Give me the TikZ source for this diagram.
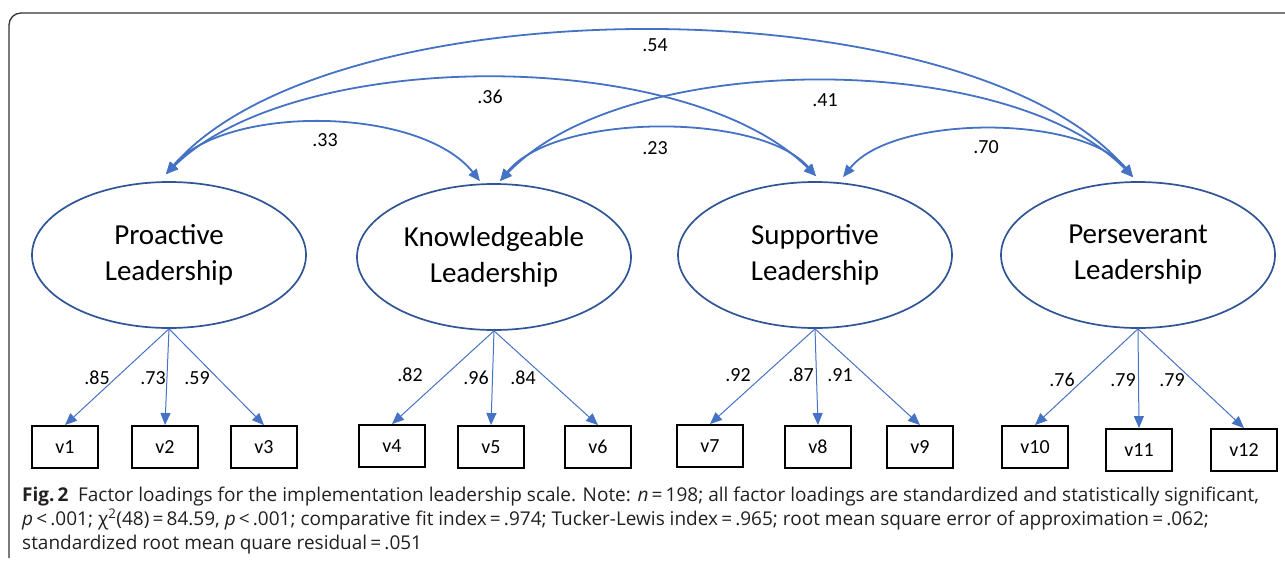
\documentclass[tikz,border=0pt]{standalone}
\usepackage{fontspec}
\setmainfont{Carlito}
\newfontfamily\capfont{Open Sans}
\usetikzlibrary{arrows.meta,shapes.geometric}
\definecolor{arcblue}{HTML}{4472C4}
\definecolor{ovalblue}{HTML}{2F5597}
\definecolor{framegray}{HTML}{333333}
\definecolor{captext}{HTML}{231F20}

\begin{document}
\begin{tikzpicture}[x=1pt,y=-1pt,
  latent/.style={ellipse, draw=ovalblue, line width=1.7pt, minimum width=274pt,
    minimum height=146pt, inner sep=0pt, align=center,
    font=\fontsize{29}{36}\selectfont},
  ind/.style={draw=black, line width=1.9pt, minimum width=66pt, minimum height=42pt,
    inner sep=0pt, font=\fontsize{20}{22}\selectfont},
  cov/.style={draw=arcblue, line width=1.8pt, {Triangle[length=12pt,width=10pt]}-{Triangle[length=12pt,width=10pt]}},
  load/.style={draw=arcblue, line width=1pt, -{Triangle[length=12pt,width=10pt]}},
  num/.style={font=\fontsize{20}{22}\selectfont, inner sep=0pt},
  capline/.style={anchor=base west, inner sep=0pt, text=captext,
    font=\capfont\fontsize{19}{24}\selectfont},
]
\useasboundingbox (0,0) rectangle (1285,565);

% panel frame
\draw[framegray, line width=1.3pt, rounded corners=12pt] (9,558) -- (9,13) -- (1285,13);

% latent factors
\node[latent] (PL) at (169,255) {Proactive\\Leadership};
\node[latent] (KL) at (494,257) {Knowledgeable\\Leadership};
\node[latent] (SL) at (815,255) {Supportive\\Leadership};
\node[latent] (VL) at (1138,255) {Perseverant\\Leadership};

% indicators
\node[ind] (v1)  at (65,447)   {v1};
\node[ind] (v2)  at (165,447)  {v2};
\node[ind] (v3)  at (264,447)  {v3};
\node[ind] (v4)  at (392,446)  {v4};
\node[ind] (v5)  at (491,447)  {v5};
\node[ind] (v6)  at (598,447)  {v6};
\node[ind] (v7)  at (710,446)  {v7};
\node[ind] (v8)  at (818,447)  {v8};
\node[ind] (v9)  at (920,447)  {v9};
\node[ind] (v10) at (1035,447) {v10};
\node[ind] (v11) at (1139,450) {v11};
\node[ind] (v12) at (1244,450) {v12};

% factor loadings
\foreach \f/\v in {PL/v1,PL/v2,PL/v3,KL/v4,KL/v5,KL/v6,SL/v7,SL/v8,SL/v9,VL/v10,VL/v11,VL/v12}
  \draw[load] (\f.south) -- (\v.north);

\node[num] (l1)  at (97,378)   {.85};
\node[num] (l2)  at (153,378)  {.73};
\node[num] (l3)  at (197,378)  {.59};
\node[num] (l4)  at (410,375)  {.82};
\node[num] (l5)  at (476,378)  {.96};
\node[num] (l6)  at (523,378)  {.84};
\node[num] (l7)  at (738,375)  {.92};
\node[num] (l8)  at (801,375)  {.87};
\node[num] (l9)  at (840,375)  {.91};
\node[num] (l10) at (1062,380) {.76};
\node[num] (l11) at (1123,380) {.79};
\node[num] (l12) at (1172,380) {.79};

% attachment points of the correlation arcs
\coordinate (pa) at ([xshift=-3pt,yshift=7pt]PL.north);
\coordinate (ka) at ([xshift=-14pt,yshift=2pt]KL.north);
\coordinate (kb) at ([xshift=6pt,yshift=2pt]KL.north);
\coordinate (sa) at ([xshift=1pt,yshift=5pt]SL.north);
\coordinate (sb) at ([xshift=28pt,yshift=4pt]SL.north);
\coordinate (qa) at ([xshift=-5pt,yshift=4pt]VL.north);

% factor correlations
\draw[cov] (pa) .. controls (226,104) and (420,106) .. (ka);
\draw[cov] (pa) .. controls (296,46) and (686,46) .. (sa);
\draw[cov] (pa) .. controls (331,-17) and (968,-17) .. (qa);
\draw[cov] (kb) .. controls (555,112) and (761,112) .. (sa);
\draw[cov] (kb) .. controls (625,49) and (1008,49) .. (qa);
\draw[cov] (sb) .. controls (893,114) and (1083,114) .. (qa);

\node[num] (c1) at (325,140) {.33};
\node[num] (c2) at (490,97)  {.36};
\node[num] (c3) at (655,45)  {.54};
\node[num] (c4) at (655,148) {.23};
\node[num] (c5) at (825,100) {.41};
\node[num] (c6) at (986,147) {.70};

% caption
\node[capline] (cap1) at (22,501) {\textbf{Fig.\,2}\enspace Factor loadings for the implementation leadership scale. Note: \textit{n}\,=\,198; all factor loadings are standardized and statistically significant,};
\node[capline] (cap2) at (22,525) {\textit{p}\,<\,.001; χ\textsuperscript{2}(48)\,=\,84.59, \textit{p}\,<\,.001; comparative fit index\,=\,.974; Tucker-Lewis index\,=\,.965; root mean square error of approximation\,=\,.062;};
\node[capline] (cap3) at (22,549) {standardized root mean quare residual\,=\,.051};
\end{tikzpicture}
\end{document}
